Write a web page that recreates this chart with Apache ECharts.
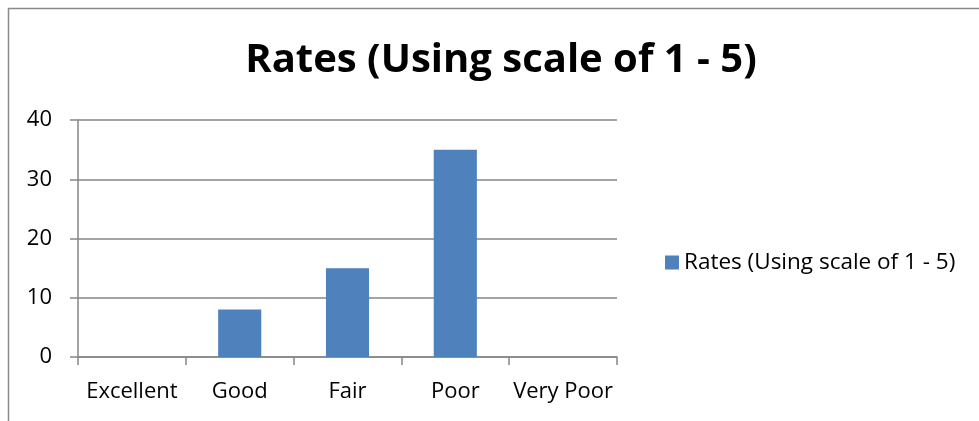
<!DOCTYPE html>
<html>
<head>
<meta charset="utf-8">
<script src="https://cdn.jsdelivr.net/npm/echarts@6/dist/echarts.min.js"></script>
<style>html,body{margin:0;padding:0;background:#fff}#c{width:979px;height:421px}</style>
</head>
<body>
<div id="c"></div>
<script>
const titleText = 'Rates (Using scale of 1 - 5)';
const categories = ['Excellent', 'Good', 'Fair', 'Poor', 'Very Poor'];
const seriesName = 'Rates (Using scale of 1 - 5)';
const values = [0, 8, 15, 35, 0];
const yTicks = [0, 10, 20, 30, 40];

const font = "'Open Sans', 'Noto Sans', sans-serif";
const axisGray = '#868686';
const chart = echarts.init(document.getElementById('c'), null, {renderer: 'canvas'});
chart.setOption({
  animation: false,
  backgroundColor: '#fff',
  graphic: [{
    type: 'rect', silent: true, z: -1,
    shape: {x: 8.5, y: 8.5, width: 1000, height: 500},
    style: {fill: 'none', stroke: '#8a8a8a', lineWidth: 1.5}
  }],
  title: {
    text: titleText, left: 496, top: 36, textAlign: 'center',
    textStyle: {fontFamily: font, fontWeight: 'bold', fontSize: 40, color: '#000'}
  },
  legend: {
    left: 660, top: 246, itemWidth: 14, itemHeight: 14, itemGap: 6,
    icon: 'rect',
    textStyle: {fontFamily: font, fontSize: 22.5, color: '#000'},
    data: [seriesName]
  },
  grid: {left: 78, right: 979 - 617, top: 120, bottom: 421 - 357, containLabel: false},
  xAxis: {
    type: 'category', data: categories,
    axisLine: {lineStyle: {color: axisGray, width: 1.5}},
    axisTick: {show: true, length: 8, alignWithLabel: false, lineStyle: {color: axisGray, width: 1.5}},
    axisLabel: {fontFamily: font, fontSize: 22, color: '#000', margin: 24, interval: 0}
  },
  yAxis: {
    type: 'value', min: yTicks[0], max: yTicks[yTicks.length - 1], interval: 10,
    axisLine: {show: true, lineStyle: {color: axisGray, width: 1.5}},
    axisTick: {show: true, length: 8, lineStyle: {color: axisGray, width: 1.5}},
    splitLine: {lineStyle: {color: axisGray, width: 1.5}},
    axisLabel: {fontFamily: font, fontSize: 22, color: '#000', margin: 26}
  },
  series: [{
    name: seriesName, type: 'bar', data: values, barWidth: '40%',
    itemStyle: {color: '#4F81BD'}
  }]
});
</script>
</body>
</html>
